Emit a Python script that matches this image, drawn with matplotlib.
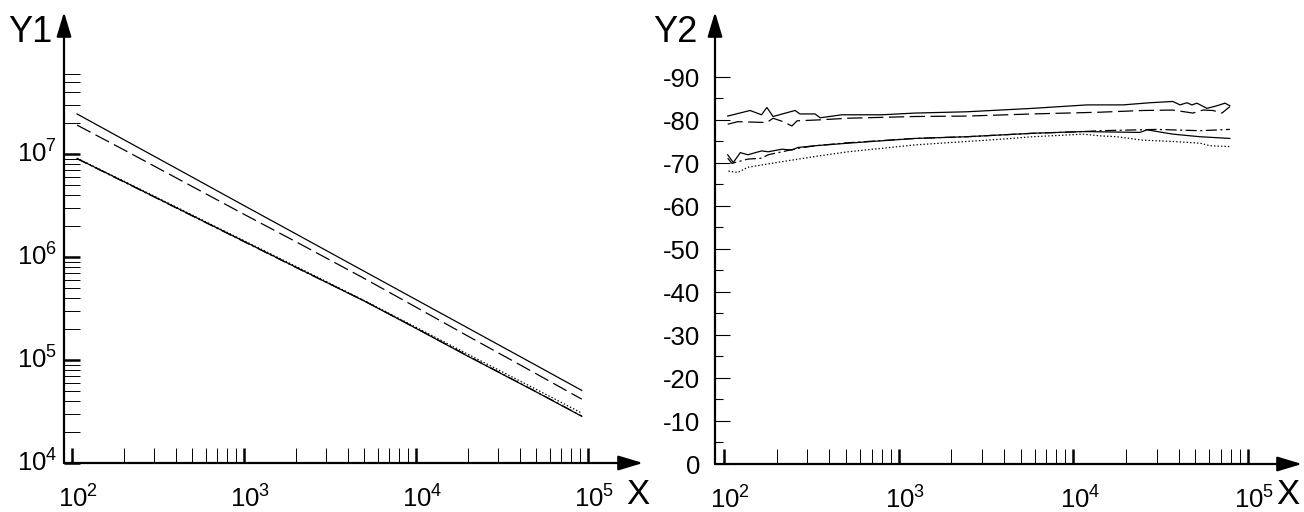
import matplotlib
matplotlib.use("Agg")
import matplotlib.pyplot as plt
import matplotlib.transforms as mtransforms
from matplotlib.ticker import FixedLocator, NullFormatter

plt.rcParams['font.family'] = ['Liberation Sans', 'DejaVu Sans']
plt.rcParams['mathtext.fontset'] = 'custom'
plt.rcParams['mathtext.rm'] = 'Liberation Sans'
plt.rcParams['mathtext.it'] = 'Liberation Sans:italic'
plt.rcParams['lines.scale_dashes'] = False

# ---- left panel data (Y1, log-log) ----
x_left = [107, 200, 500, 1000, 2000, 5000, 1e4, 2e4, 5e4, 9.2e4]
y1_solid = [2.45e7, 1.38e7, 5.97e6, 3.16e6, 1.68e6, 7.27e5, 3.86e5, 2.05e5, 8.87e4, 5.07e4]
y1_dashed = [1.91e7, 1.10e7, 4.84e6, 2.60e6, 1.41e6, 6.20e5, 3.26e5, 1.71e5, 7.35e4, 4.17e4]
y1_dotted = [9.1e6, 5.46e6, 2.56e6, 1.44e6, 8.13e5, 3.78e5, 2.08e5, 1.14e5, 5.19e4, 3.05e4]
y1_dashdot = [9.0e6, 5.37e6, 2.51e6, 1.41e6, 7.94e5, 3.75e5, 2.04e5, 1.10e5, 4.92e4, 2.86e4]
y1_solid2 = [9.05e6, 5.40e6, 2.52e6, 1.42e6, 7.97e5, 3.74e5, 2.03e5, 1.09e5, 4.90e4, 2.84e4]

# ---- right panel data (Y2) ----
x2_solid = [105, 141, 164, 176, 191, 255, 272, 332, 355, 473, 802, 1239, 2460, 5870,
            11970, 19230, 27460, 37100, 40800, 44700, 47700, 51000, 58200, 66400, 73800, 78700]
y2_solid = [-80.9, -82.2, -81.2, -82.9, -80.8, -82.2, -81.4, -81.4, -80.5, -81.2, -81.2, -81.6,
            -81.9, -82.7, -83.5, -83.5, -84.0, -84.3, -83.5, -84.0, -83.5, -83.9, -82.7, -83.3,
            -83.9, -83.3]
x2_dashed = [105, 120, 176, 191, 218, 245, 262, 345, 513, 1239, 2460, 5870, 14200, 25000,
             37100, 48400, 55200, 63000, 70900, 78700]
y2_dashed = [-79.0, -79.6, -79.4, -80.4, -79.6, -78.6, -79.8, -80.0, -80.4, -80.8, -80.9, -81.4,
             -81.8, -82.2, -82.3, -81.6, -82.3, -82.2, -81.6, -83.1]
x2_solid_lo = [105, 113, 124, 137, 164, 179, 215, 245, 265, 332, 513, 1239, 2460, 5870,
               11360, 24000, 26400, 37100, 53000, 78700]
y2_solid_lo = [-71.9, -70.1, -72.4, -71.9, -72.8, -72.6, -73.2, -73.0, -73.6, -74.0, -74.6,
               -75.7, -76.1, -76.9, -77.3, -77.1, -77.7, -76.7, -76.1, -75.7]
x2_dashdot = [105, 111, 137, 164, 179, 215, 265, 332, 513, 1239, 2460, 5870, 11360, 14200,
              30100, 53000, 78700]
y2_dashdot = [-71.1, -69.9, -70.9, -71.1, -71.9, -72.6, -73.4, -74.0, -74.7, -75.7, -76.1,
              -76.9, -77.3, -77.5, -77.8, -77.5, -77.8]
x2_dotted = [106, 120, 137, 215, 332, 513, 802, 1239, 2460, 3800, 5870, 11360, 14200, 17780,
             25000, 37100, 53000, 60600, 78700]
y2_dotted = [-68.1, -67.8, -69.0, -70.3, -71.5, -72.6, -73.4, -74.2, -75.0, -75.5, -76.1,
             -76.7, -76.3, -76.1, -75.3, -75.0, -74.6, -74.0, -73.8]

x_major = [1e2, 1e3, 1e4, 1e5]
x_minor = [k * 10 ** e for e in (2, 3, 4) for k in range(2, 10)]
y1_major = [1e4, 1e5, 1e6, 1e7]
y1_minor = [k * 10 ** e for e in (4, 5, 6) for k in range(2, 10)] + [2e7, 3e7, 4e7, 5e7, 6e7]
y2_major = [0, -10, -20, -30, -40, -50, -60, -70, -80, -90]
y2_minor = [-5, -15, -25, -35, -45, -55, -65, -75, -85]
y2_labels = ['0', '-10', '-20', '-30', '-40', '-50', '-60', '-70', '-80', '-90']

W, H = 1304, 512
fig = plt.figure(figsize=(W / 100, H / 100), dpi=100)
tick_fs = 18.5

def px_axes(x0, x1, ytop, ybot):
    return fig.add_axes([x0 / W, 1 - ybot / H, (x1 - x0) / W, (ybot - ytop) / H])

def off(dx, dy):
    return mtransforms.ScaledTranslation(dx / 100, dy / 100, fig.dpi_scale_trans)

def arrows(ax):
    for end in [(1, 0), (0, 1)]:
        ax.annotate('', xy=end, xytext=(0, 0), xycoords='axes fraction',
                    arrowprops=dict(arrowstyle='-|>,head_length=1.5,head_width=0.45',
                                    mutation_scale=10, lw=1.6, color='black',
                                    shrinkA=0, shrinkB=0), annotation_clip=False)

def base_axes(ax):
    for s in ax.spines.values():
        s.set_visible(False)
    ax.patch.set_visible(False)
    ax.set_xscale('log')
    ax.xaxis.set_major_locator(FixedLocator(x_major))
    ax.xaxis.set_minor_locator(FixedLocator(x_minor))
    ax.xaxis.set_major_formatter(NullFormatter())
    ax.xaxis.set_minor_formatter(NullFormatter())
    ax.tick_params(axis='x', which='major', direction='in', length=10.8, width=1.8)
    ax.tick_params(axis='x', which='minor', direction='in', length=10.8, width=0.7)
    arrows(ax)
    for e, xv in zip(range(2, 6), x_major):
        ax.text(xv, 0, rf'$10^{{{e}}}$', fontsize=tick_fs, ha='center', va='baseline',
                transform=ax.get_xaxis_transform() + off(6.5, -45))

lw = 0.9
# ---- left ----
ax1 = px_axes(64, 643, 12, 463)
base_axes(ax1)
ax1.set_yscale('log')
ax1.set_xlim(10 ** 1.9535, 10 ** 5.32)
ax1.set_ylim(1e4, 10 ** 8.379)
ax1.plot(x_left, y1_solid, color='black', lw=lw, ls='-')
ax1.plot(x_left, y1_dashed, color='black', lw=lw, ls=(0, (11, 4)))
ax1.plot(x_left, y1_dotted, color='black', lw=lw, ls=(0, (1, 1.5)))
ax1.plot(x_left, y1_dashdot, color='black', lw=lw, ls=(0, (8, 2.5, 1.5, 2.5)))
ax1.plot(x_left, y1_solid2, color='black', lw=lw, ls='-')
ax1.yaxis.set_major_locator(FixedLocator(y1_major))
ax1.yaxis.set_minor_locator(FixedLocator(y1_minor))
ax1.yaxis.set_major_formatter(NullFormatter())
ax1.yaxis.set_minor_formatter(NullFormatter())
ax1.tick_params(axis='y', which='major', direction='in', length=11.5, width=1.8)
ax1.tick_params(axis='y', which='minor', direction='in', length=11.5, width=0.7)
for e, yv in zip(range(4, 8), y1_major):
    ax1.text(0, yv, rf'$10^{{{e}}}$', fontsize=tick_fs, ha='right', va='baseline',
             transform=ax1.get_yaxis_transform() + off(-7, -9))

# ---- right ----
ax2 = px_axes(715, 1302, 12, 464)
base_axes(ax2)
ax2.set_xlim(10 ** 1.9485, 10 ** 5.309)
ax2.set_ylim(0, -105.1)
ax2.plot(x2_solid, y2_solid, color='black', lw=lw, ls='-')
ax2.plot(x2_dashed, y2_dashed, color='black', lw=lw, ls=(0, (11, 4)))
ax2.plot(x2_solid_lo, y2_solid_lo, color='black', lw=lw, ls='-')
ax2.plot(x2_dashdot, y2_dashdot, color='black', lw=lw, ls=(0, (8, 2.5, 1.5, 2.5)))
ax2.plot(x2_dotted, y2_dotted, color='black', lw=lw, ls=(0, (1, 1.5)))
ax2.yaxis.set_major_locator(FixedLocator(y2_major))
ax2.yaxis.set_minor_locator(FixedLocator(y2_minor))
ax2.yaxis.set_major_formatter(NullFormatter())
ax2.yaxis.set_minor_formatter(NullFormatter())
ax2.tick_params(axis='y', which='major', direction='in', length=10.8, width=0.8)
ax2.tick_params(axis='y', which='minor', direction='in', length=5.8, width=0.8)
for lab, yv in zip(y2_labels, y2_major):
    ax2.text(0, yv, lab, fontsize=tick_fs, ha='right', va='baseline',
             transform=ax2.get_yaxis_transform() + off(-15, -10))

# axis names
fig.text(52 / W, 1 - 42 / H, 'Y1', fontsize=26, ha='right', va='baseline')
fig.text(698 / W, 1 - 42 / H, 'Y2', fontsize=26, ha='right', va='baseline')
fig.text(626 / W, 1 - 511 / H, 'X', fontsize=25, ha='left', va='bottom')
fig.text(1276 / W, 1 - 511 / H, 'X', fontsize=25, ha='left', va='bottom')

fig.savefig('out.png', dpi=100)
